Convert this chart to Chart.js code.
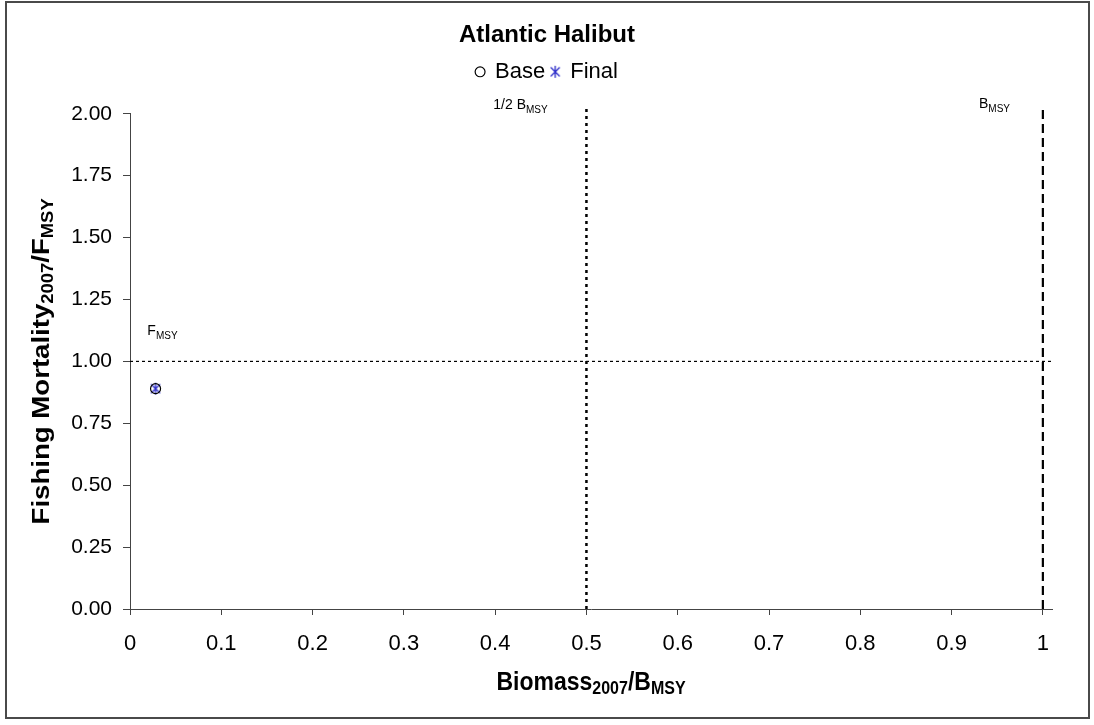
<!DOCTYPE html>
<html>
<head>
<meta charset="utf-8">
<script src="https://cdn.jsdelivr.net/npm/chart.js@4.4.1/dist/chart.umd.min.js"></script>
<style>
html, body { margin: 0; padding: 0; background: #fff; }
#wrap { position: relative; width: 1094px; height: 725px; }
</style>
</head>
<body>
<div id="wrap"><canvas id="statusChart" width="1094" height="725"></canvas></div>
<script>
// stock status values
var baseX = [0.028];
var baseY = [0.89];
var finalX = [0.028];
var finalY = [0.89];

// reference points
var fMsy = 1.0;
var halfBmsy = 0.5;
var bMsy = 1.0;
var refTop = 2.035;   // vertical reference lines run a bit above the axis

var xTicks = [0, 0.1, 0.2, 0.3, 0.4, 0.5, 0.6, 0.7, 0.8, 0.9, 1];
var yTicks = [0, 0.25, 0.5, 0.75, 1, 1.25, 1.5, 1.75, 2];
var xMax = 1.01;
var yMax = 2;

var FONT = '"Liberation Sans", Arial, sans-serif';
var axisColor = '#444';
var finalColor = '#2a2ac8';

function toPoints(xs, ys) {
    return xs.map(function (x, i) { return { x: x, y: ys[i] }; });
}

// excel style asterisk marker: an X with a vertical stroke
function makeAsterisk(size, color) {
    var c = document.createElement('canvas');
    c.width = size;
    c.height = size;
    var g = c.getContext('2d');
    var m = size / 2, r = size / 2 - 1, d = r * 0.75;
    g.strokeStyle = color;
    g.lineWidth = 1.3;
    g.beginPath();
    g.moveTo(m, m - r); g.lineTo(m, m + r);
    g.moveTo(m - d, m - d); g.lineTo(m + d, m + d);
    g.moveTo(m - d, m + d); g.lineTo(m + d, m - d);
    g.stroke();
    return c;
}
var asterisk = makeAsterisk(14, finalColor);

// draws text with subscript parts, parts = [[text, isSub], ...]
function drawRich(ctx, parts, x, y, mainFont, subFont, rot, align, sx, sy) {
    ctx.save();
    ctx.translate(x, y);
    ctx.rotate(rot || 0);
    ctx.scale(sx || 1, sy || 1);
    ctx.fillStyle = '#000';
    ctx.textBaseline = 'alphabetic';
    ctx.textAlign = 'left';
    var total = 0;
    parts.forEach(function (p) {
        ctx.font = p[1] ? subFont : mainFont;
        total += ctx.measureText(p[0]).width;
    });
    var cx = align === 'left' ? 0 : -total / 2;
    parts.forEach(function (p) {
        ctx.font = p[1] ? subFont : mainFont;
        ctx.fillText(p[0], cx, p[1] ? 4 : 0);
        cx += ctx.measureText(p[0]).width;
    });
    ctx.restore();
}

var decor = {
    id: 'decor',
    beforeDraw: function (chart) {
        var ctx = chart.ctx;
        ctx.save();
        ctx.fillStyle = '#fff';
        ctx.fillRect(0, 0, chart.width, chart.height);
        ctx.strokeStyle = '#4a4a4a';
        ctx.lineWidth = 2;
        ctx.strokeRect(6, 2, 1083, 716);
        ctx.restore();
    },
    afterDraw: function (chart) {
        var ctx = chart.ctx;
        var xs = chart.scales.x, ys = chart.scales.y, a = chart.chartArea;
        drawRich(ctx, [['Biomass', 0], ['2007', 1], ['/B', 0], ['MSY', 1]],
            (a.left + a.right) / 2, 690, 'bold 23px ' + FONT, 'bold 16px ' + FONT, 0, 'center', 1, 1.1);
        drawRich(ctx, [['Fishing Mortality', 0], ['2007', 1], ['/F', 0], ['MSY', 1]],
            49, (a.top + a.bottom) / 2, 'bold 24px ' + FONT, 'bold 16px ' + FONT, -Math.PI / 2, 'center', 1.15, 1);

        var small = '14px ' + FONT, smallSub = '10px ' + FONT;
        drawRich(ctx, [['1/2 B', 0], ['MSY', 1]],
            xs.getPixelForValue(0.398), ys.getPixelForValue(2.02), small, smallSub, 0, 'left');
        drawRich(ctx, [['B', 0], ['MSY', 1]],
            xs.getPixelForValue(0.93), ys.getPixelForValue(2.025), small, smallSub, 0, 'left');
        drawRich(ctx, [['F', 0], ['MSY', 1]],
            xs.getPixelForValue(0.019), ys.getPixelForValue(1.105), small, smallSub, 0, 'left');
    }
};

var ctx = document.getElementById('statusChart').getContext('2d');

var chart = new Chart(ctx, {
    type: 'scatter',
    data: {
        datasets: [{
            label: 'Base',
            data: toPoints(baseX, baseY),
            pointStyle: 'circle',
            pointRadius: 5,
            borderColor: '#000',
            backgroundColor: 'rgba(255,255,255,0)',
            borderWidth: 1.2
        }, {
            label: 'Final',
            data: toPoints(finalX, finalY),
            pointStyle: asterisk,
            pointRadius: 7,
            borderColor: finalColor,
            backgroundColor: finalColor,
            borderWidth: 1.5
        }, {
            label: 'Fmsy',
            data: [{ x: 0, y: fMsy }, { x: xMax, y: fMsy }],
            showLine: true,
            pointRadius: 0,
            borderColor: '#000',
            borderWidth: 1.2,
            borderDash: [3, 3]
        }, {
            label: 'half Bmsy',
            data: [{ x: halfBmsy, y: 0 }, { x: halfBmsy, y: refTop }],
            showLine: true,
            pointRadius: 0,
            borderColor: '#000',
            borderWidth: 2.5,
            borderDash: [3, 4],
            clip: false
        }, {
            label: 'Bmsy',
            data: [{ x: bMsy, y: 0 }, { x: bMsy, y: refTop }],
            showLine: true,
            pointRadius: 0,
            borderColor: '#000',
            borderWidth: 2.2,
            borderDash: [9, 5],
            clip: false
        }]
    },
    options: {
        responsive: false,
        animation: false,
        devicePixelRatio: 1,
        layout: { padding: { left: 42, right: 42, top: 0, bottom: 0 } },
        plugins: {
            title: {
                display: true,
                text: 'Atlantic Halibut',
                color: '#000',
                font: { family: FONT, size: 24, weight: 'bold' },
                padding: { top: 21, bottom: 5 }
            },
            subtitle: {
                // empty spacer under the legend
                display: true,
                text: '',
                weight: 500,
                font: { family: FONT, size: 10, lineHeight: 1 },
                padding: { top: 11, bottom: 0 }
            },
            legend: {
                display: true,
                position: 'top',
                labels: {
                    usePointStyle: true,
                    boxWidth: 8,
                    boxHeight: 7,
                    padding: 6,
                    color: '#000',
                    font: { family: FONT, size: 22 },
                    filter: function (item) { return item.datasetIndex < 2; }
                }
            },
            tooltip: { enabled: false }
        },
        scales: {
            x: {
                type: 'linear',
                min: 0,
                max: xMax,
                afterBuildTicks: function (scale) {
                    scale.ticks = xTicks.map(function (v) { return { value: v }; });
                },
                afterFit: function (scale) { scale.height = 116; },
                ticks: {
                    color: '#000',
                    padding: 16,
                    maxRotation: 0,
                    font: { family: FONT, size: 22 },
                    callback: function (v) { return String(+v.toFixed(1)); }
                },
                grid: { drawOnChartArea: false, tickLength: 6, color: axisColor },
                border: { display: true, color: axisColor, width: 1 }
            },
            y: {
                type: 'linear',
                min: 0,
                max: yMax,
                afterBuildTicks: function (scale) {
                    scale.ticks = yTicks.map(function (v) { return { value: v }; });
                },
                afterFit: function (scale) { scale.width = 88; },
                ticks: {
                    color: '#000',
                    padding: 11,
                    font: { family: FONT, size: 21 },
                    callback: function (v) { return v.toFixed(2); }
                },
                grid: { drawOnChartArea: false, tickLength: 7, color: axisColor },
                border: { display: true, color: axisColor, width: 1 }
            }
        }
    },
    plugins: [decor]
});
</script>
</body>
</html>
